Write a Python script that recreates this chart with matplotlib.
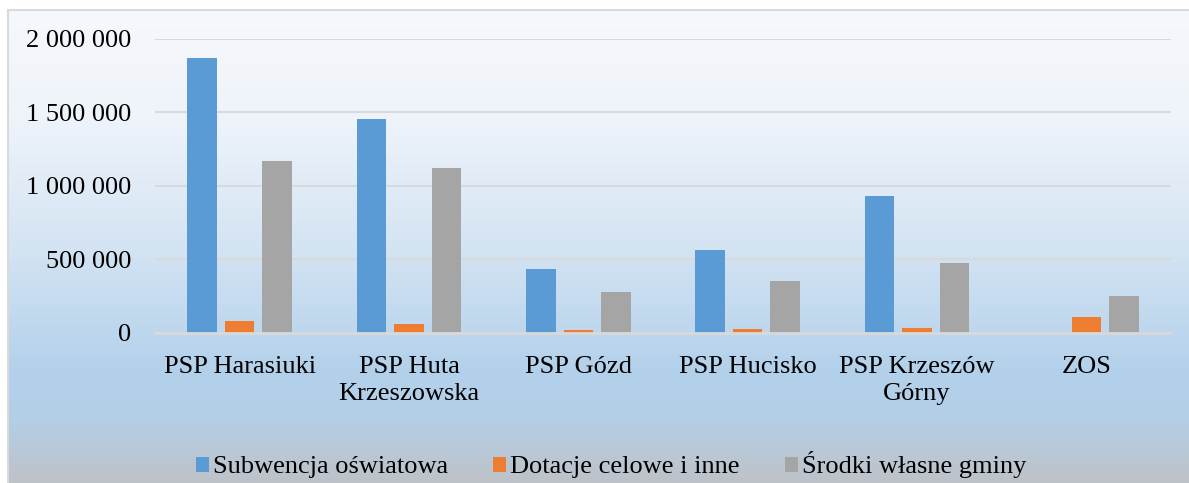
import numpy as np
import matplotlib.pyplot as plt
from matplotlib.colors import LinearSegmentedColormap
from matplotlib.patches import Rectangle

categories = ['PSP Harasiuki', 'PSP Huta\nKrzeszowska', 'PSP Gózd',
              'PSP Hucisko', 'PSP Krzeszów\nGórny', 'ZOS']
subwencja = [1868000, 1455000, 430000, 560000, 929000, 0]
dotacje = [80000, 56000, 17000, 24000, 31000, 105000]
srodki = [1170000, 1120000, 274000, 350000, 471000, 249000]
series_names = ['Subwencja oświatowa', 'Dotacje celowe i inne', 'Środki własne gminy']
colors = ['#5B9BD5', '#ED7D31', '#A5A5A5']
yticks = [0, 500000, 1000000, 1500000, 2000000]

plt.rcParams['font.family'] = ['Liberation Serif', 'DejaVu Serif']

W, H = 1189, 483
fig = plt.figure(figsize=(W / 100, H / 100), dpi=100)

# gradient background of the chart area (white -> light blue -> grey)
bg = fig.add_axes([8 / W, 0, 1 - 8 / W, (H - 10) / H], zorder=-2)
grad = LinearSegmentedColormap.from_list('bg', [
    (0.0, '#F5F8FC'), (0.22, '#EFF4FA'), (0.5, '#D4E4F3'),
    (0.76, '#B4D1EB'), (0.86, '#B3CFE8'), (1.0, '#BEC2C8')])
bg.imshow(np.linspace(0, 1, 256).reshape(-1, 1), aspect='auto', cmap=grad,
          extent=[0, 1, 0, 1], origin='upper')
bg.set_axis_off()
fig.patches.append(Rectangle((8 / W, -0.01), 1.0, (H - 10) / H + 0.01,
                             transform=fig.transFigure, fill=False,
                             edgecolor='#D9D9D9', lw=1.5, zorder=5))

ax = fig.add_axes([155 / W, 1 - 332.5 / H, (1171 - 155) / W, (332.5 - 38.7) / H])
ax.set_facecolor('none')

x = np.arange(len(categories))
width = 0.174
step = 0.2215
for i, (vals, c, name) in enumerate(zip([subwencja, dotacje, srodki], colors, series_names)):
    ax.bar(x + (i - 1) * step, vals, width, color=c, label=name, zorder=3,
           linewidth=0)

ax.set_xlim(-0.5, len(categories) - 0.5)
ax.set_ylim(0, 2000000)
ax.set_yticks(yticks)
ax.set_yticklabels([f'{v:,}'.replace(',', ' ') for v in yticks])
ax.set_xticks(x)
ax.set_xticklabels(categories, linespacing=1.3)
ax.tick_params(axis='both', length=0, labelsize=19, labelcolor='black')
ax.tick_params(axis='y', pad=17)
ax.tick_params(axis='x', pad=17)
ax.grid(axis='y', color='#D9D9D9', lw=1.5, zorder=0)
for s in ['top', 'right', 'left']:
    ax.spines[s].set_visible(False)
ax.spines['bottom'].set_color('#D9D9D9')
ax.spines['bottom'].set_linewidth(2)
ax.spines['bottom'].set_zorder(4)

fig.legend(loc='center', bbox_to_anchor=(611 / W, 1 - 465 / H), ncol=3,
           frameon=False, fontsize=19, handlelength=0.5, handleheight=0.5,
           handletextpad=0.15, columnspacing=1.7, borderpad=0)

fig.savefig('out.png', dpi=100)
